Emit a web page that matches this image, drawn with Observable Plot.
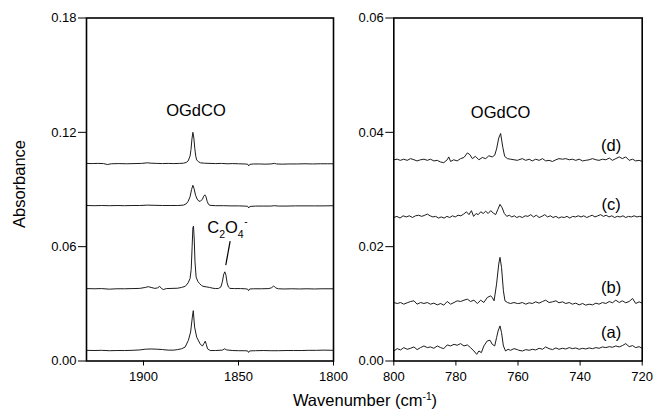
<!DOCTYPE html>
<html><head><meta charset="utf-8">
<script src="https://cdn.jsdelivr.net/npm/d3@7"></script>
<script src="https://cdn.jsdelivr.net/npm/@observablehq/plot@0.6"></script>
<style>
body{margin:0;background:#fff;}
#fig{position:relative;width:654px;height:418px;background:#fff;font-family:"Liberation Sans",Arial,sans-serif;overflow:hidden}
#fig svg{position:absolute;top:0;overflow:visible;background:transparent}
.ttl{position:absolute;font-size:16.5px;color:#000;white-space:nowrap;line-height:1}
</style></head><body><div id="fig"></div>
<script>
// ---------- axes / ticks ----------
const leftXDomain = [1930, 1800];
const leftXTicks = [1900, 1850, 1800];
const leftYDomain = [0, 0.18];
const leftYTicks = [0, 0.06, 0.12, 0.18];
const rightXDomain = [800, 720];
const rightXTicks = [800, 780, 760, 740, 720];
const rightYDomain = [0, 0.06];
const rightYTicks = [0, 0.02, 0.04, 0.06];

// ---------- left panel spectra [wavenumber, absorbance] ----------
const leftD = [[1930,0.1037],[1927,0.1036],[1924,0.1037],[1921,0.1036],[1919,0.1031],[1917,0.1035],[1913,0.1036],[1909,0.1035],[1905,0.1036],[1901,0.1037],[1898,0.1040],[1896,0.1038],[1893,0.1037],[1890,0.1036],[1887,0.1037],[1884,0.1036],[1881,0.1037],[1879,0.1038],[1877.5,0.1042],[1876.5,0.1050],[1875.5,0.1075],[1875,0.1110],[1874.5,0.1165],[1874,0.1200],[1873.5,0.1170],[1873,0.1115],[1872.5,0.1075],[1872,0.1055],[1871,0.1045],[1870,0.1040],[1868,0.1038],[1865,0.1037],[1862,0.1036],[1859,0.1037],[1856,0.1035],[1853,0.1036],[1850,0.1035],[1847,0.1034],[1845.2,0.1033],[1844.6,0.1024],[1844,0.1032],[1842,0.1034],[1839,0.1034],[1836,0.1033],[1833,0.1034],[1831,0.1037],[1830,0.1034],[1827,0.1033],[1823,0.1034],[1819,0.1034],[1815,0.1035],[1811,0.1034],[1807,0.1035],[1803,0.1035],[1800,0.1035]];
const leftC = [[1930,0.0816],[1926,0.0815],[1922,0.0816],[1918,0.0815],[1914,0.0816],[1910,0.0815],[1906,0.0816],[1902,0.0816],[1898,0.0818],[1894,0.0817],[1890,0.0816],[1886,0.0816],[1882,0.0816],[1879,0.0818],[1877.5,0.0825],[1876.5,0.0838],[1875.5,0.0862],[1874.7,0.0900],[1874,0.0922],[1873.4,0.0905],[1872.6,0.0870],[1871.8,0.0850],[1870.8,0.0838],[1870,0.0840],[1869,0.0848],[1868.3,0.0865],[1867.7,0.0872],[1867.1,0.0862],[1866.5,0.0838],[1865.8,0.0822],[1865,0.0817],[1862,0.0815],[1858,0.0815],[1854,0.0814],[1850,0.0814],[1847,0.0813],[1845.2,0.0812],[1844.6,0.0803],[1844,0.0811],[1841,0.0813],[1837,0.0813],[1833,0.0813],[1831,0.0815],[1829,0.0813],[1825,0.0813],[1820,0.0814],[1815,0.0814],[1810,0.0814],[1805,0.0814],[1800,0.0815]];
const leftB = [[1930,0.0380],[1926,0.0379],[1922,0.0380],[1918,0.0377],[1914,0.0379],[1910,0.0379],[1906,0.0380],[1902,0.0381],[1899,0.0386],[1897.5,0.0390],[1896,0.0386],[1894,0.0381],[1892.5,0.0384],[1891.5,0.0392],[1890.5,0.0380],[1889.5,0.0375],[1888,0.0380],[1885,0.0381],[1882,0.0382],[1880,0.0386],[1878,0.0392],[1876.5,0.0410],[1875.5,0.0433],[1874.9,0.0480],[1874.4,0.0600],[1874,0.0700],[1873.7,0.0708],[1873.3,0.0640],[1872.9,0.0520],[1872.3,0.0440],[1871.4,0.0418],[1870.5,0.0406],[1869.5,0.0397],[1868.7,0.0392],[1867,0.0389],[1865.2,0.0386],[1863.5,0.0382],[1862,0.0380],[1860.5,0.0381],[1859.3,0.0388],[1858.5,0.0415],[1857.8,0.0455],[1857.2,0.0468],[1856.6,0.0450],[1856,0.0410],[1855.3,0.0388],[1854.5,0.0381],[1852,0.0380],[1849,0.0380],[1846.5,0.0379],[1845.2,0.0377],[1844.7,0.0369],[1844.1,0.0378],[1842,0.0379],[1838,0.0379],[1834,0.0380],[1832.5,0.0385],[1831.5,0.0394],[1830.5,0.0384],[1829,0.0379],[1826,0.0378],[1822,0.0379],[1818,0.0378],[1814,0.0379],[1810,0.0378],[1806,0.0379],[1800,0.0379]];
const leftA = [[1930,0.0056],[1926,0.0055],[1922,0.0056],[1918,0.0054],[1914,0.0055],[1910,0.0055],[1906,0.0056],[1902,0.0058],[1899,0.0062],[1896,0.0063],[1893,0.0062],[1890,0.0060],[1887,0.0057],[1884,0.0057],[1882,0.0060],[1880,0.0064],[1878.1,0.0073],[1876.4,0.0108],[1875.2,0.0152],[1874.3,0.0230],[1873.8,0.0264],[1873.1,0.0178],[1872,0.0125],[1870.2,0.0090],[1869,0.0078],[1868.2,0.0092],[1867.5,0.0104],[1866.9,0.0086],[1866.3,0.0064],[1864.9,0.0055],[1862,0.0055],[1858.5,0.0057],[1857.3,0.0064],[1856.2,0.0058],[1853,0.0055],[1850,0.0054],[1847,0.0054],[1845.2,0.0053],[1844.7,0.0045],[1844.1,0.0053],[1841,0.0054],[1837,0.0055],[1833,0.0054],[1829,0.0054],[1825,0.0055],[1821,0.0055],[1817,0.0055],[1813,0.0056],[1809,0.0056],[1805,0.0057],[1800,0.0056]];

// ---------- right panel spectra [wavenumber, absorbance] ----------
const rightD = [[800.0,0.0352],[798.9,0.0353],[797.9,0.0351],[796.8,0.0353],[795.7,0.0351],[794.6,0.0354],[793.5,0.0352],[792.5,0.0350],[791.4,0.0352],[790.3,0.0353],[789.2,0.0351],[788.2,0.0353],[787.1,0.0350],[786.0,0.0351],[784.9,0.0348],[783.9,0.0347],[782.8,0.0352],[782.3,0.0357],[781.7,0.0349],[780.7,0.0352],[779.6,0.0350],[778.5,0.0354],[777.4,0.0356],[776.3,0.0364],[775.5,0.0361],[774.7,0.0354],[773.7,0.0358],[772.6,0.0352],[771.5,0.0356],[770.4,0.0354],[769.4,0.0359],[768.3,0.0357],[767.5,0.0360],[766.9,0.0371],[766.2,0.0390],[765.6,0.0398],[764.9,0.0374],[764.3,0.0358],[763.4,0.0354],[762.4,0.0353],[761.3,0.0352],[760.2,0.0351],[759.7,0.0352],[758.6,0.0354],[757.5,0.0351],[756.4,0.0353],[755.4,0.0350],[754.3,0.0353],[753.2,0.0351],[752.1,0.0354],[751.1,0.0350],[750.0,0.0351],[748.9,0.0349],[747.8,0.0352],[746.8,0.0354],[745.7,0.0353],[744.6,0.0354],[743.5,0.0352],[742.5,0.0353],[741.4,0.0351],[740.3,0.0353],[739.2,0.0350],[738.2,0.0351],[737.1,0.0352],[736.0,0.0354],[734.9,0.0352],[733.9,0.0351],[732.8,0.0353],[731.7,0.0352],[730.6,0.0355],[729.6,0.0351],[728.5,0.0354],[727.4,0.0357],[726.4,0.0354],[725.3,0.0357],[724.2,0.0351],[723.1,0.0353],[722.1,0.0350],[721.0,0.0351],[720.0,0.0349]];
const rightC = [[800.0,0.0251],[799.0,0.0253],[798.0,0.0250],[797.0,0.0254],[796.0,0.0252],[795.0,0.0254],[794.0,0.0251],[793.0,0.0254],[792.0,0.0255],[791.0,0.0253],[790.0,0.0255],[789.2,0.0257],[788.3,0.0254],[787.4,0.0252],[786.5,0.0253],[785.6,0.0250],[784.7,0.0252],[783.8,0.0250],[782.9,0.0253],[782.0,0.0251],[781.1,0.0254],[780.2,0.0252],[779.3,0.0255],[778.4,0.0254],[777.5,0.0257],[776.6,0.0261],[775.8,0.0256],[775.0,0.0263],[774.3,0.0253],[773.5,0.0258],[772.8,0.0256],[772.0,0.0261],[771.2,0.0258],[770.4,0.0262],[769.6,0.0258],[768.8,0.0263],[768.0,0.0259],[767.2,0.0256],[766.5,0.0265],[765.8,0.0274],[765.1,0.0268],[764.4,0.0258],[763.6,0.0253],[762.8,0.0255],[762.0,0.0252],[761.2,0.0254],[760.4,0.0251],[759.5,0.0253],[758.6,0.0251],[757.7,0.0254],[756.8,0.0253],[755.9,0.0256],[755.0,0.0252],[754.1,0.0255],[753.2,0.0251],[752.3,0.0253],[751.4,0.0256],[750.5,0.0252],[749.6,0.0254],[748.7,0.0251],[747.8,0.0253],[746.9,0.0250],[746.0,0.0252],[745.1,0.0251],[744.2,0.0253],[743.3,0.0250],[742.4,0.0253],[741.5,0.0252],[740.6,0.0254],[739.7,0.0252],[738.8,0.0254],[737.9,0.0251],[737.0,0.0253],[736.1,0.0255],[735.2,0.0252],[734.3,0.0254],[733.4,0.0256],[732.5,0.0253],[731.6,0.0255],[730.7,0.0252],[729.8,0.0254],[728.9,0.0251],[728.0,0.0253],[727.1,0.0252],[726.2,0.0254],[725.3,0.0251],[724.4,0.0253],[723.5,0.0252],[722.6,0.0254],[721.7,0.0252],[720.8,0.0253],[720.0,0.0252]];
const rightB = [[800.0,0.01023],[798.9,0.01006],[797.8,0.01023],[796.8,0.00994],[795.7,0.01018],[794.6,0.01041],[793.5,0.01053],[792.5,0.00994],[791.4,0.01023],[790.3,0.01006],[789.2,0.01023],[788.2,0.00994],[787.1,0.01012],[786.0,0.00982],[784.9,0.01006],[783.9,0.00977],[782.8,0.01041],[781.7,0.00994],[780.6,0.01023],[779.6,0.01053],[778.5,0.01041],[777.4,0.01064],[776.3,0.01082],[775.3,0.01041],[774.2,0.01064],[773.1,0.01006],[772.0,0.01064],[771.0,0.01023],[769.9,0.01111],[768.8,0.01140],[768.3,0.01111],[767.7,0.01053],[766.9,0.01345],[766.2,0.01696],[765.8,0.01813],[765.3,0.01637],[764.7,0.01228],[764.2,0.01053],[763.4,0.01023],[762.4,0.01006],[761.3,0.01023],[760.2,0.01006],[759.7,0.01006],[758.6,0.01023],[757.5,0.00994],[756.4,0.01018],[755.4,0.01006],[754.3,0.01035],[753.2,0.01012],[752.1,0.01041],[751.1,0.01064],[750.0,0.01023],[748.9,0.01035],[747.8,0.01053],[746.8,0.01018],[745.7,0.01035],[744.6,0.01006],[743.5,0.01023],[742.5,0.00994],[741.4,0.01012],[740.3,0.00982],[739.2,0.01006],[738.2,0.00977],[737.1,0.00994],[736.0,0.00982],[734.9,0.01012],[733.9,0.00994],[732.8,0.01023],[731.7,0.01006],[730.6,0.01041],[729.6,0.01018],[728.5,0.01064],[727.4,0.01023],[726.4,0.01053],[725.3,0.01018],[724.2,0.01041],[723.1,0.01094],[722.1,0.01006],[721.0,0.01035],[720.0,0.01012]];
const rightA = [[800.0,0.00175],[798.9,0.00216],[797.8,0.00193],[796.8,0.00234],[795.7,0.00205],[794.6,0.00222],[793.5,0.00246],[792.5,0.00199],[791.4,0.00234],[790.3,0.00263],[789.2,0.00234],[788.2,0.00246],[787.1,0.00222],[786.0,0.00263],[784.9,0.00234],[783.9,0.00216],[782.8,0.00281],[781.7,0.00263],[780.6,0.00292],[779.6,0.00275],[778.5,0.00304],[777.4,0.00263],[776.3,0.00281],[775.3,0.00234],[774.2,0.00175],[773.3,0.00117],[772.6,0.00175],[771.8,0.00146],[771.0,0.00263],[769.9,0.00351],[769.0,0.00363],[768.3,0.00292],[767.5,0.00263],[766.9,0.00409],[766.4,0.00526],[765.8,0.00614],[765.3,0.00497],[764.7,0.00263],[764.0,0.00175],[763.2,0.00205],[762.4,0.00187],[761.3,0.00216],[760.2,0.00199],[759.7,0.00187],[758.6,0.00175],[757.5,0.00199],[756.4,0.00187],[755.4,0.00205],[754.3,0.00193],[753.2,0.00222],[752.1,0.00205],[751.1,0.00246],[750.0,0.00216],[748.9,0.00199],[747.8,0.00228],[746.8,0.00205],[745.7,0.00222],[744.6,0.00210],[743.5,0.00234],[742.5,0.00216],[741.4,0.00228],[740.3,0.00205],[739.2,0.00222],[738.2,0.00210],[737.1,0.00228],[736.0,0.00216],[734.9,0.00234],[733.9,0.00222],[732.8,0.00246],[731.7,0.00234],[730.6,0.00251],[729.6,0.00240],[728.5,0.00263],[727.4,0.00246],[726.4,0.00269],[725.3,0.00304],[724.2,0.00251],[723.1,0.00269],[722.1,0.00234],[721.0,0.00251],[720.0,0.00222]];

// ---------- annotations ----------
const leftLabels = [{x: 1872.4, y: 0.1313, text: "OGdCO"}];
const rightLabels = [
  {x: 765.6, y: 0.0434, text: "OGdCO"},
  {x: 730, y: 0.0377, text: "(d)"},
  {x: 730, y: 0.0274, text: "(c)"},
  {x: 730, y: 0.0128, text: "(b)"},
  {x: 730, y: 0.0050, text: "(a)"}
];
const leader = [{x1: 1854.4, y1: 0.0629, x2: 1856.7, y2: 0.0503}];
const c2o4Anchor = [1855.6, 0.0671];
const yTitle = "Absorbance";

const FONT = '"Liberation Sans", Arial, sans-serif';
const LINE = "#1c1c1c";
const fig = document.getElementById("fig");

function panel(opts) {
  const p = Plot.plot({
    width: opts.width, height: 380,
    marginLeft: opts.ml, marginRight: opts.mr, marginTop: 17.5, marginBottom: 19.5,
    style: {fontFamily: FONT, fontSize: "13px", background: "transparent", overflow: "visible", color: "#000"},
    x: {domain: opts.xd, ticks: opts.xt, tickSize: 5, tickPadding: 6, label: null, tickFormat: "d"},
    y: {domain: opts.yd, ticks: opts.yt, tickSize: 8, tickPadding: 2, label: null, tickFormat: d3.format(".2f")},
    marks: [
      ...opts.series.map(s => Plot.line(s, {x: d => d[0], y: d => d[1], stroke: LINE, strokeWidth: 1})),
      Plot.frame({stroke: "#000", strokeWidth: 1.6}),
      Plot.text(opts.labels, {x: "x", y: "y", text: "text", fontSize: 16.5, fill: "#000", textAnchor: "middle", fontFamily: FONT}),
      ...(opts.extra || [])
    ]
  });
  p.style.position = "absolute";
  p.style.left = opts.left + "px";
  p.style.top = "0px";
  p.style.background = "transparent";
  p.style.overflow = "visible";
  return p;
}

const rightPlot = panel({width: 314, ml: 53.3, mr: 12.3, left: 340, xd: rightXDomain, xt: rightXTicks, yd: rightYDomain, yt: rightYTicks,
  series: [rightD, rightC, rightB, rightA], labels: rightLabels});
const leftPlot = panel({width: 340, ml: 86, mr: 7, left: 0, xd: leftXDomain, xt: leftXTicks, yd: leftYDomain, yt: leftYTicks,
  series: [leftD, leftC, leftB, leftA], labels: leftLabels,
  extra: [Plot.link(leader, {x1: "x1", y1: "y1", x2: "x2", y2: "y2", stroke: "#000", strokeWidth: 1.2})]});
fig.appendChild(rightPlot);
fig.appendChild(leftPlot);

// C2O4- label with sub/superscripts, placed through the plot's own scales
{
  const ax = leftPlot.scale("x").apply(c2o4Anchor[0]);
  const ay = leftPlot.scale("y").apply(c2o4Anchor[1]);
  const t = d3.select(leftPlot).append("text")
    .attr("x", ax).attr("y", ay)
    .attr("font-family", FONT).attr("font-size", 16.5).attr("fill", "#000");
  t.append("tspan").text("C");
  t.append("tspan").attr("font-size", 10.5).attr("dy", 5).text("2");
  t.append("tspan").attr("font-size", 16.5).attr("dy", -5).text("O");
  t.append("tspan").attr("font-size", 10.5).attr("dy", 5).text("4");
  t.append("tspan").attr("font-size", 10).attr("dy", -13).attr("dx", 0.5).text("-");
}

// Axis titles
const yt = document.createElement("div");
yt.className = "ttl";
yt.textContent = yTitle;
yt.style.left = "19px"; yt.style.top = "184px";
yt.style.transform = "translate(-50%,-50%) rotate(-90deg)";
fig.appendChild(yt);

const xt = document.createElement("div");
xt.className = "ttl";
xt.innerHTML = 'Wavenumber (cm<span style="font-size:0.62em;position:relative;top:-0.55em">-1</span>)';
xt.style.left = "365px"; xt.style.top = "400px";
xt.style.transform = "translate(-50%,-50%)";
fig.appendChild(xt);
</script></body></html>
